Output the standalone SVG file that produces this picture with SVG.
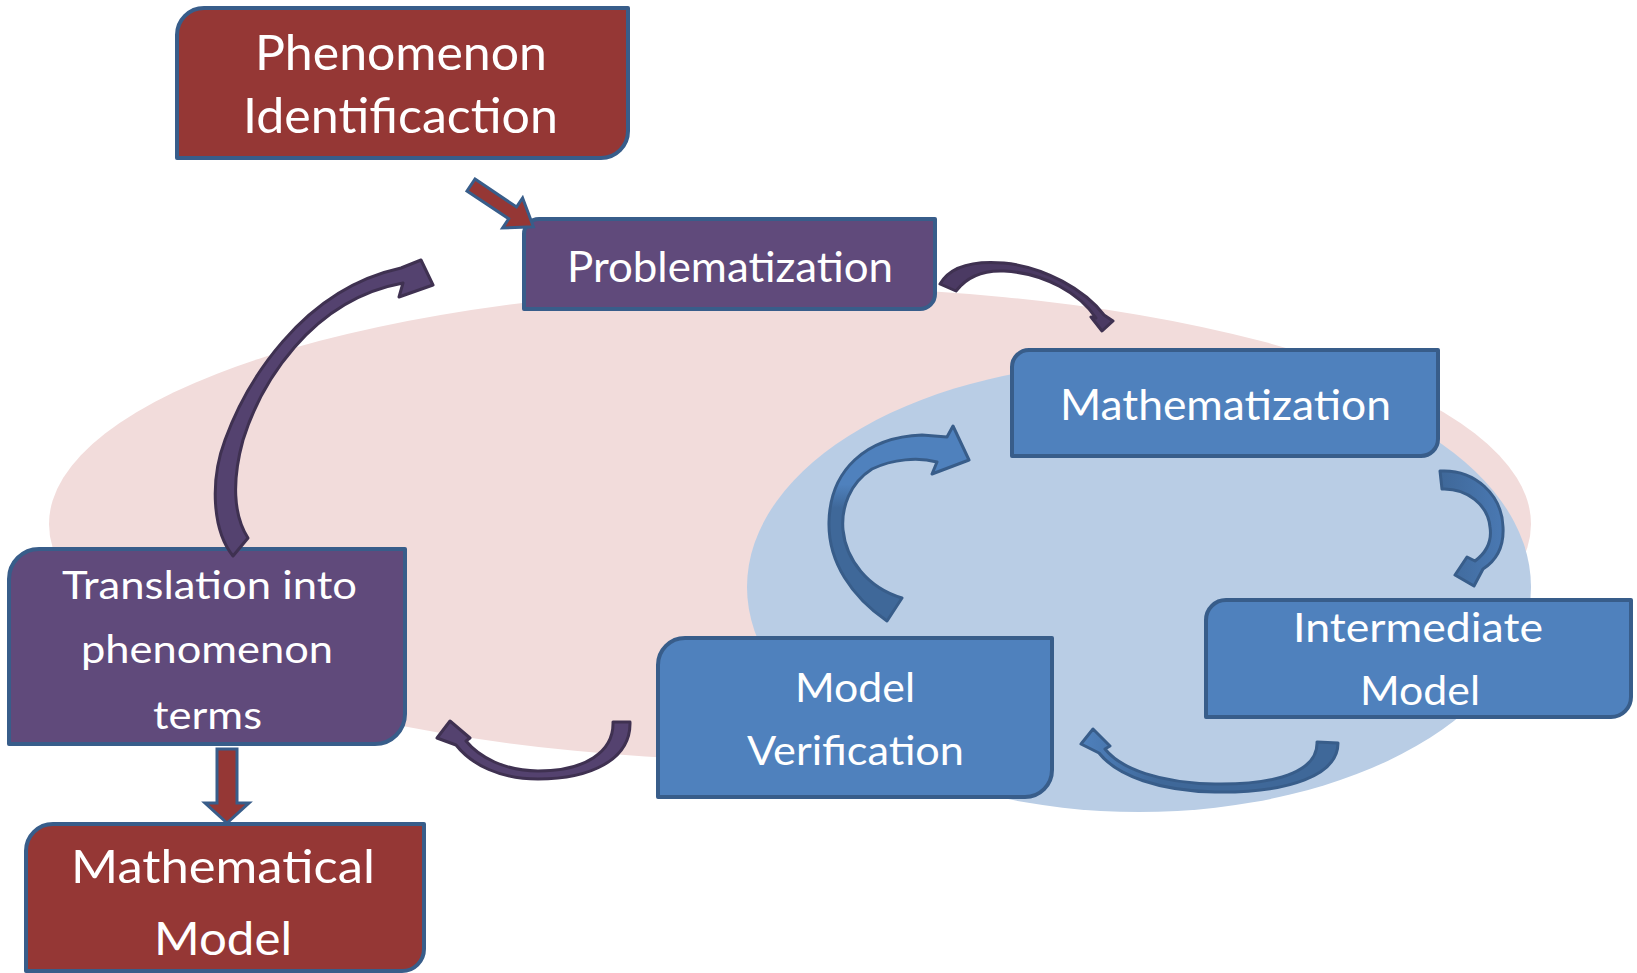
<svg xmlns="http://www.w3.org/2000/svg" width="1637" height="973" viewBox="0 0 1637 973">
  <defs>
    <style>
      .box{stroke:#385d8a;stroke-width:4;stroke-linejoin:round}
      .red{fill:#953735}
      .pur{fill:#604a7b}
      .blu{fill:#4f81bd}
      .lbl{font-family:Lato,"Open Sans","Liberation Sans",sans-serif;fill:#ffffff}
      .pa{fill:#54426f;stroke:#3f3151;stroke-width:3;stroke-linejoin:round}
      .ba{stroke:#385d8a;stroke-width:3;stroke-linejoin:round}
      .blk{fill:#953735;stroke:#385d8a;stroke-width:3;stroke-linejoin:miter}
    </style>
    <linearGradient id="gLoop" gradientUnits="userSpaceOnUse" x1="0" y1="426" x2="0" y2="621">
      <stop offset="0" stop-color="#4f81bd"/>
      <stop offset="0.3" stop-color="#4f81bd"/>
      <stop offset="0.42" stop-color="#3f6899"/>
      <stop offset="1" stop-color="#3f6899"/>
    </linearGradient>
    <linearGradient id="gRight" gradientUnits="userSpaceOnUse" x1="1440" y1="0" x2="1505" y2="0">
      <stop offset="0" stop-color="#3f6899"/>
      <stop offset="1" stop-color="#4a79b3"/>
    </linearGradient>
    <linearGradient id="gBottom" gradientUnits="userSpaceOnUse" x1="1080" y1="0" x2="1340" y2="0">
      <stop offset="0" stop-color="#4f81bd"/>
      <stop offset="0.3" stop-color="#3f6899"/>
      <stop offset="1" stop-color="#3f6899"/>
    </linearGradient>
  </defs>

  <!-- background regions -->
  <g id="regions">
    <ellipse cx="790" cy="524" rx="741" ry="237" fill="#f2dcdb"/>
    <ellipse cx="1139" cy="587" rx="392" ry="225" fill="#b9cde5"/>
  </g>

  <!-- nodes: rectangles with rounded top-left and bottom-right corners -->
  <g id="phenomenon-identification">
    <path class="box red" d="M204,8 H628 V131 A27,27 0 0 1 601,158 H177 V35 A27,27 0 0 1 204,8 Z"/>
    <text class="lbl" x="255" y="70" font-size="49" textLength="292" lengthAdjust="spacingAndGlyphs">Phenomenon</text>
    <text class="lbl" x="243" y="133" font-size="49" textLength="315" lengthAdjust="spacingAndGlyphs">Identificaction</text>
  </g>

  <g id="problematization">
    <path class="box pur" d="M539,219 H935 V294 A15,15 0 0 1 920,309 H524 V234 A15,15 0 0 1 539,219 Z"/>
    <text class="lbl" x="567" y="282" font-size="42" textLength="326" lengthAdjust="spacingAndGlyphs">Problematization</text>
  </g>

  <g id="mathematization">
    <path class="box blu" d="M1029,350 H1438 V439 A17,17 0 0 1 1421,456 H1012 V367 A17,17 0 0 1 1029,350 Z"/>
    <text class="lbl" x="1060" y="420" font-size="42" textLength="331" lengthAdjust="spacingAndGlyphs">Mathematization</text>
  </g>

  <g id="intermediate-model">
    <path class="box blu" d="M1226,600 H1631 V697 A20,20 0 0 1 1611,717 H1206 V620 A20,20 0 0 1 1226,600 Z"/>
    <text class="lbl" x="1293" y="642" font-size="40" textLength="250" lengthAdjust="spacingAndGlyphs">Intermediate</text>
    <text class="lbl" x="1360" y="705" font-size="40" textLength="120" lengthAdjust="spacingAndGlyphs">Model</text>
  </g>

  <g id="model-verification">
    <path class="box blu" d="M685,638 H1052 V770 A27,27 0 0 1 1025,797 H658 V665 A27,27 0 0 1 685,638 Z"/>
    <text class="lbl" x="795" y="702" font-size="40" textLength="120" lengthAdjust="spacingAndGlyphs">Model</text>
    <text class="lbl" x="747" y="765" font-size="40" textLength="217" lengthAdjust="spacingAndGlyphs">Verification</text>
  </g>

  <g id="translation">
    <path class="box pur" d="M39,549 H405 V714 A30,30 0 0 1 375,744 H9 V579 A30,30 0 0 1 39,549 Z"/>
    <text class="lbl" x="62" y="599" font-size="39" textLength="295" lengthAdjust="spacingAndGlyphs">Translation into</text>
    <text class="lbl" x="81" y="663" font-size="39" textLength="252" lengthAdjust="spacingAndGlyphs">phenomenon</text>
    <text class="lbl" x="153" y="729" font-size="39" textLength="109" lengthAdjust="spacingAndGlyphs">terms</text>
  </g>

  <g id="mathematical-model">
    <path class="box red" d="M53,824 H424 V949 A22,22 0 0 1 402,971 H26 V851 A27,27 0 0 1 53,824 Z"/>
    <text class="lbl" x="71" y="883" font-size="46" textLength="304" lengthAdjust="spacingAndGlyphs">Mathematical</text>
    <text class="lbl" x="154" y="955" font-size="46" textLength="138" lengthAdjust="spacingAndGlyphs">Model</text>
  </g>

  <!-- connectors -->
  <g id="connectors">
    <!-- straight block arrows -->
    <polygon class="blk" points="475,179 516.5,207 522.6,198 533.4,226.8 502.6,228 508.7,218.7 467,191"/>
    <polygon class="blk" points="217,749 237,749 237,803 249,803 227,823 205,803 217,803"/>

    <!-- translation back up to problematization -->
    <path class="pa" d="M233,556 C212,530 210,480 225,440 C245,385 300,290 401,268 L421,260 L433,285 L399,297 L403,283 C310,300 260,385 243,440 C232,480 233,515 248,538 Z"/>

    <!-- problematization to mathematization -->
    <path class="pa" style="fill:#4b3a63" d="M940,284 C952,263 980,261 1004,263 C1045,267 1085,290 1104,315 L1113,321 L1102,331 L1091,317 L1096,318 C1080,294 1045,273 1004,271 C982,270 966,278 956,291 Z"/>

    <!-- mathematization to intermediate model -->
    <path class="ba" fill="url(#gRight)" d="M1440,471 C1475,469 1502,495 1503,527 C1504,545 1497,560 1483,569 L1474,586 L1455,575 L1467,557 L1475,561 C1487,552 1492,540 1490,527 C1488,505 1467,488 1442,489 Z"/>

    <!-- intermediate model to model verification -->
    <path class="ba" fill="url(#gBottom)" d="M1317,742 L1338,743 C1338,775 1290,793 1215,792 C1160,791 1117,776 1099,753 L1081,744 L1093,729 L1110,746 L1105,749 C1121,769 1160,783 1215,784 C1285,785 1318,768 1317,742 Z"/>

    <!-- model verification back to mathematization -->
    <path class="ba" fill="url(#gLoop)" d="M887,621 C852,597 828,562 829,522 C830,470 866,437 922,435 L947,437 L953,426 L969,460 L932,474 L937,462 C918,457 893,459 872,469 C850,483 841,507 843,530 C846,560 868,588 902,598 Z"/>

    <!-- model verification to translation -->
    <path class="pa" d="M613,722 L630,722 C631,760 590,779 538,779 C500,779 472,765 456,745 L437,738 L450,721 L470,738 L466,741 C479,757 505,771 538,771 C585,771 614,752 613,722 Z"/>
  </g>
</svg>
